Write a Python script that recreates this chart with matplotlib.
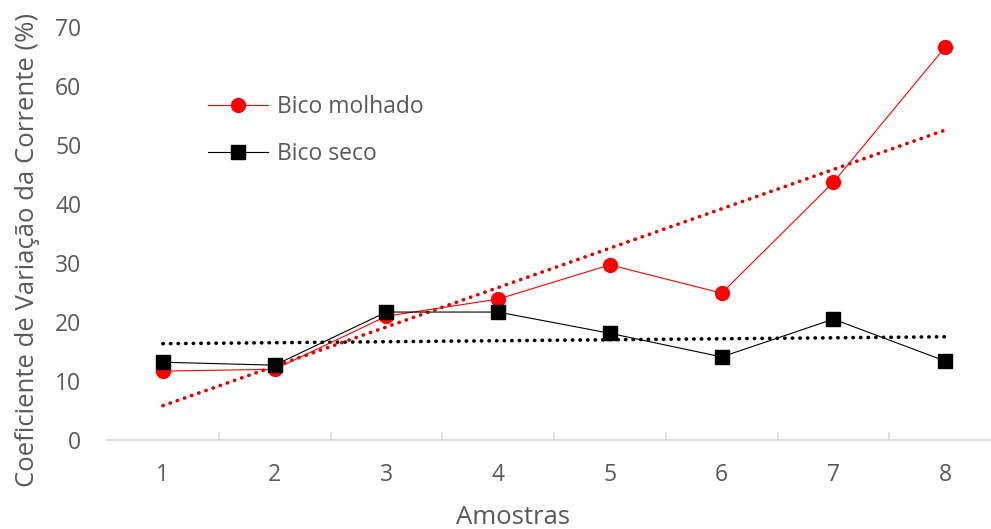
import matplotlib.pyplot as plt
import numpy as np

plt.rcParams['font.family'] = ['Open Sans', 'DejaVu Sans']

amostras = [1, 2, 3, 4, 5, 6, 7, 8]
bico_molhado = [11.7, 12.0, 21.0, 23.9, 29.7, 24.9, 43.7, 66.6]
bico_seco = [13.2, 12.7, 21.7, 21.7, 18.1, 14.1, 20.5, 13.4]

cinza = '#595959'
x = np.array(amostras)

fig = plt.figure(figsize=(9.91, 5.29), dpi=100)
ax = fig.add_axes([0.108, 0.168, 0.892, 0.781])

ax.plot(x, bico_molhado, color='#ff0000', lw=0.8, marker='o', markersize=10,
        label='Bico molhado', zorder=3)
ax.plot(x, bico_seco, color='black', lw=0.8, marker='s', markersize=10,
        label='Bico seco', zorder=3)

# linhas de tendencia (linear)
for serie, cor in [(bico_molhado, '#e00000'), (bico_seco, 'black')]:
    a, b = np.polyfit(x, serie, 1)
    ax.plot([1, 8], [a * 1 + b, a * 8 + b], color=cor, lw=2.6,
            linestyle=(0, (0.1, 2.0)), dash_capstyle='round', zorder=2)

ax.set_xlim(0.5, 8.41)
ax.set_ylim(0, 70)
ax.set_yticks(range(0, 71, 10))
ax.set_xticks(amostras)
ax.set_xticks(np.arange(1.5, 8.5, 1), minor=True)

for s in ['top', 'right', 'left']:
    ax.spines[s].set_visible(False)
ax.spines['bottom'].set_color('#d9d9d9')
ax.spines['bottom'].set_linewidth(1.2)

ax.tick_params(axis='y', length=0, labelsize=16.5, labelcolor=cinza, pad=18.5)
ax.tick_params(axis='x', which='major', length=0, labelsize=16.5,
               labelcolor=cinza, pad=16.5)
ax.tick_params(axis='x', which='minor', direction='in', length=6,
               color='#d9d9d9', width=1.2)

ax.set_xlabel('Amostras', fontsize=18.5, color=cinza)
ax.set_ylabel('Coeficiente de Variação da Corrente (%)', fontsize=18.5,
              color=cinza)
ax.xaxis.set_label_coords(0.459, -0.157)
ax.yaxis.set_label_coords(-0.076, 0.46)

ax.legend(loc='upper left', bbox_to_anchor=(0.091, 0.885), frameon=False,
          fontsize=16.5, labelcolor=cinza, handlelength=2.6,
          labelspacing=0.98, handletextpad=0.4)

fig.savefig('out.png', dpi=100)
